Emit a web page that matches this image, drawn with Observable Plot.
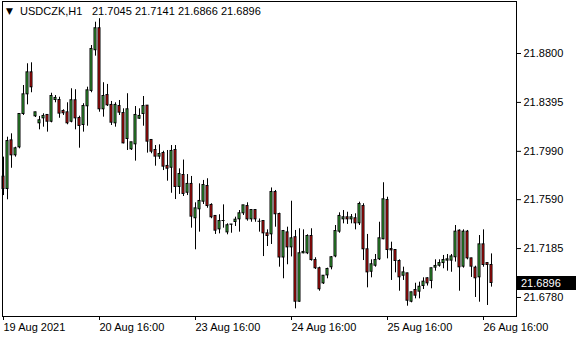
<!DOCTYPE html>
<html><head><meta charset="utf-8">
<script src="https://cdn.jsdelivr.net/npm/d3@7"></script>
<script src="https://cdn.jsdelivr.net/npm/@observablehq/plot@0.6"></script>
<style>
html,body{margin:0;padding:0;background:#fff;}
#wrap{position:relative;width:580px;height:340px;font-family:"Liberation Sans",Arial,sans-serif;}
.hd{position:absolute;top:5px;font-size:11px;line-height:12px;color:#000;white-space:pre;}
.tri{font-family:"DejaVu Sans";font-size:9px;}
#price{position:absolute;left:517px;width:59px;height:14px;background:#000;color:#fff;font-size:11px;line-height:14px;padding-left:4px;box-sizing:border-box;}
</style></head><body><div id="wrap"></div>
<script>
const symbol = "USDCZK,H1";
const opens = [21.7776,21.7674,21.8077,21.7953,21.8019,21.8295,21.8458,21.8640,21.8276,21.8218,
21.8259,21.8287,21.8231,21.8411,21.8411,21.8320,21.8309,21.8231,21.8409,21.8262,
21.8204,21.8359,21.8486,21.8823,21.9005,21.8334,21.8452,21.8370,21.8218,21.8361,
21.8303,21.8088,21.8003,21.8044,21.8256,21.8295,21.8364,21.8080,21.7997,21.7942,
21.7972,21.7865,21.7850,21.7997,21.7691,21.7790,21.7643,21.7716,21.7432,21.7506,
21.7569,21.7699,21.7542,21.7451,21.7340,21.7409,21.7315,21.7380,21.7401,21.7423,
21.7473,21.7533,21.7423,21.7500,21.7403,21.7409,21.7307,21.7299,21.7649,21.7467,
21.7107,21.7315,21.7191,21.7275,21.6741,21.7142,21.7142,21.7285,21.7086,21.7018,
21.6893,21.6959,21.7026,21.7116,21.7321,21.7423,21.7440,21.7423,21.7432,21.7390,
21.7533,21.7175,21.6989,21.7039,21.7092,21.7258,21.7583,21.7177,21.7169,21.7078,
21.6956,21.6976,21.6741,21.6838,21.6824,21.6871,21.6935,21.6913,21.7023,21.7039,
21.7061,21.7081,21.7081,21.7109,21.7329,21.7031,21.7321,21.7100,21.7023,21.6943,
21.7216,21.7061,21.7045];
const highs = [21.7942,21.8107,21.8135,21.8024,21.8297,21.8535,21.8715,21.8723,21.8314,21.8279,
21.8301,21.8287,21.8471,21.8452,21.8438,21.8334,21.8392,21.8508,21.8500,21.8281,
21.8384,21.8521,21.8866,21.9059,21.9088,21.8558,21.8544,21.8403,21.8392,21.8411,
21.8342,21.8467,21.8061,21.8361,21.8342,21.8444,21.8370,21.8086,21.8038,21.8044,
21.7991,21.7997,21.8038,21.8038,21.7845,21.7918,21.7798,21.7782,21.7564,21.7721,
21.7749,21.7763,21.7556,21.7451,21.7465,21.7547,21.7390,21.7385,21.7445,21.7500,
21.7542,21.7564,21.7506,21.7506,21.7430,21.7409,21.7340,21.7687,21.7666,21.7478,
21.7335,21.7362,21.7577,21.7335,21.7349,21.7340,21.7299,21.7349,21.7109,21.7031,
21.6962,21.7023,21.7119,21.7376,21.7481,21.7500,21.7486,21.7467,21.7473,21.7569,
21.7556,21.7302,21.7092,21.7136,21.7403,21.7730,21.7610,21.7238,21.7177,21.7092,
21.7031,21.6981,21.6824,21.6898,21.6907,21.6943,21.6943,21.7023,21.7092,21.7092,
21.7128,21.7136,21.7136,21.7376,21.7340,21.7340,21.7335,21.7105,21.7039,21.7293,
21.7340,21.7066,21.7141];
const lows = [21.7624,21.7589,21.7850,21.7942,21.8011,21.8287,21.8375,21.8475,21.8270,21.8168,
21.8190,21.8149,21.8226,21.8392,21.8264,21.8287,21.8210,21.8226,21.8168,21.8016,
21.8149,21.8198,21.8475,21.8778,21.8314,21.8273,21.8361,21.8204,21.8190,21.8287,
21.8052,21.7997,21.7997,21.7909,21.8256,21.8198,21.7975,21.7970,21.7867,21.7923,
21.7831,21.7743,21.7643,21.7591,21.7633,21.7616,21.7624,21.7354,21.7175,21.7321,
21.7550,21.7519,21.7432,21.7302,21.7307,21.7354,21.7299,21.7312,21.7368,21.7321,
21.7459,21.7412,21.7403,21.7403,21.7321,21.7119,21.7202,21.7219,21.7362,21.7031,
21.6935,21.7051,21.7116,21.6686,21.6741,21.7142,21.7135,21.7081,21.7012,21.6832,
21.6888,21.6935,21.7009,21.7109,21.7312,21.7390,21.7385,21.7390,21.7340,21.7376,
21.7086,21.6860,21.6943,21.7031,21.7086,21.7258,21.7100,21.6921,21.6984,21.6832,
21.6921,21.6708,21.6736,21.6769,21.6769,21.6846,21.6875,21.6852,21.6998,21.7031,
21.7018,21.6998,21.6989,21.7073,21.6832,21.7023,21.7092,21.6946,21.6780,21.6741,
21.7031,21.6714,21.6866];
const closes = [21.7674,21.8071,21.7953,21.8011,21.8295,21.8458,21.8640,21.8516,21.8309,21.8243,
21.8279,21.8231,21.8444,21.8428,21.8298,21.8301,21.8218,21.8409,21.8259,21.8196,
21.8361,21.8491,21.8833,21.9005,21.8334,21.8444,21.8367,21.8223,21.8370,21.8306,
21.8052,21.8334,21.8061,21.8287,21.8279,21.8361,21.8066,21.7983,21.7942,21.7964,
21.7859,21.7842,21.7989,21.7691,21.7798,21.7633,21.7716,21.7445,21.7514,21.7575,
21.7707,21.7533,21.7440,21.7329,21.7409,21.7409,21.7374,21.7378,21.7420,21.7473,
21.7539,21.7423,21.7500,21.7423,21.7403,21.7307,21.7285,21.7649,21.7465,21.7107,
21.7326,21.7191,21.7266,21.6741,21.7142,21.7153,21.7285,21.7086,21.7018,21.6844,
21.6956,21.7012,21.7109,21.7326,21.7451,21.7440,21.7423,21.7440,21.7390,21.7550,
21.7175,21.6984,21.7051,21.7086,21.7266,21.7589,21.7169,21.7166,21.7078,21.6943,
21.6984,21.6749,21.6819,21.6791,21.6865,21.6907,21.6893,21.7018,21.7037,21.7061,
21.7086,21.7092,21.7116,21.7321,21.7026,21.7321,21.7100,21.7031,21.6935,21.7216,
21.7045,21.7045,21.6896];
const xTickIdx = [0, 24, 48, 72, 96, 120];
const xTickLabels = ["19 Aug 2021", "20 Aug 16:00", "23 Aug 16:00", "24 Aug 16:00", "25 Aug 16:00", "26 Aug 16:00"];
const yTicks = [21.8800, 21.8395, 21.7990, 21.7590, 21.7185, 21.6780];

const GREEN = "#40c840", RED = "#ee1111";
const data = opens.map((o, i) => ({i, open: o, high: highs[i], low: lows[i], close: closes[i]}));
const last = data[data.length - 1];

const plot = Plot.plot({
  width: 580, height: 340,
  marginLeft: 2, marginRight: 64, marginTop: 1, marginBottom: 24,
  style: {fontFamily: "'Liberation Sans', Arial, sans-serif", fontSize: "11px", color: "#000", background: "#fff"},
  x: {type: "linear", domain: [-0.375, 128.125]},
  y: {domain: [21.66227, 21.92305]},
  marks: [
    Plot.ruleX(data, {x: "i", y1: "low", y2: "high", stroke: "#000", strokeWidth: 1, dx: -0.5}),
    Plot.rect(data, {x1: d => d.i - 0.375, x2: d => d.i + 0.375, y1: "open", y2: "close", fill: "#000",
      insetTop: -0.5, insetBottom: -0.5, dx: -0.5, dy: -0.5}),
    Plot.rect(data, {x1: d => d.i - 0.375, x2: d => d.i + 0.375, y1: "open", y2: "close",
      fill: d => d.close >= d.open ? GREEN : RED, insetLeft: 1, insetRight: 1, insetTop: 0.5, insetBottom: 0.5, dx: -0.5, dy: -0.5}),
    Plot.frame({stroke: "#000"}),
    Plot.axisY({anchor: "right", ticks: yTicks, tickFormat: d => d.toFixed(4), tickSize: 4, tickPadding: 3, label: null}),
    Plot.axisX({anchor: "bottom", ticks: xTickIdx, tickFormat: d => xTickLabels[xTickIdx.indexOf(d)], tickSize: 4, tickPadding: 3, textAnchor: "start", label: null, dx: -0.5})
  ]
});
const wrap = document.getElementById("wrap");
wrap.appendChild(plot);

function addText(html, left, cls) {
  const el = document.createElement("div");
  el.className = "hd" + (cls ? " " + cls : "");
  el.style.left = left + "px";
  el.innerHTML = html;
  wrap.appendChild(el);
}
addText("▼", 6, "tri");
addText(symbol, 20);
const ohlc = [last.open, last.high, last.low, last.close].map(v => v.toFixed(4));
const hdrLeft = [92, 135, 178, 221];
ohlc.forEach((s, k) => addText(s, hdrLeft[k]));

const py = plot.scale("y").apply(last.close);
const pl = document.createElement("div");
pl.id = "price";
pl.style.top = (py - 7) + "px";
pl.textContent = last.close.toFixed(4);
wrap.appendChild(pl);
</script>
</body></html>
